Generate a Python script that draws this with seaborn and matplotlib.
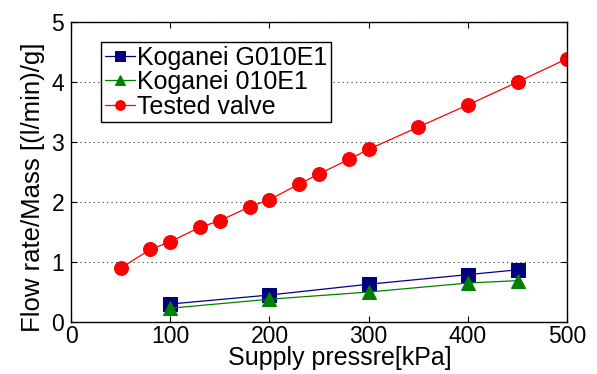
import matplotlib
matplotlib.use("Agg")
import matplotlib.pyplot as plt
import seaborn as sns

sns.set_style("ticks")
plt.rcParams['font.family'] = ['Liberation Sans', 'DejaVu Sans']
plt.rcParams['text.color'] = 'black'
plt.rcParams['axes.labelcolor'] = 'black'
plt.rcParams['xtick.color'] = 'black'
plt.rcParams['ytick.color'] = 'black'

# Data
x_g010 = [100, 200, 300, 400, 450]
y_g010 = [0.30, 0.45, 0.63, 0.79, 0.87]
x_010 = [100, 200, 300, 400, 450]
y_010 = [0.23, 0.38, 0.50, 0.65, 0.69]
x_test = [50, 80, 100, 130, 150, 180, 200, 230, 250, 280, 300, 350, 400, 450, 500]
y_test = [0.90, 1.21, 1.34, 1.58, 1.69, 1.92, 2.04, 2.30, 2.47, 2.71, 2.88, 3.25, 3.62, 4.00, 4.39]
series_names = ["Koganei G010E1", "Koganei 010E1", "Tested valve"]
x_ticks = [0, 100, 200, 300, 400, 500]
y_ticks = [0, 1, 2, 3, 4, 5]

fig = plt.figure(figsize=(5.97, 3.74), dpi=100)
ax = fig.add_axes([0.119, 0.139, 0.831, 0.802])

ax.yaxis.grid(True, linestyle=(0, (1, 3)), color='#333333', linewidth=0.8)
ax.set_axisbelow(True)

sns.lineplot(x=x_g010, y=y_g010, ax=ax, color='#000080', marker='s', markersize=9.5,
             markeredgecolor='#000080', linewidth=0.9, label=series_names[0])
sns.lineplot(x=x_010, y=y_010, ax=ax, color='#008000', marker='^', markersize=10.5,
             markeredgecolor='#008000', linewidth=0.9, label=series_names[1])
sns.lineplot(x=x_test, y=y_test, ax=ax, color='#ff0000', marker='o', markersize=10,
             markeredgecolor='#ff0000', linewidth=0.9, label=series_names[2])

ax.set_xlim(0, 500)
ax.set_ylim(0, 5)
ax.set_xticks(x_ticks)
ax.set_yticks(y_ticks)
ax.tick_params(direction='in', labelsize=16.5, length=4, width=0.8, top=True, right=True,
               colors='black')
ax.tick_params(axis='x', pad=2)
ax.tick_params(axis='y', pad=5)
for s in ax.spines.values():
    s.set_visible(True)
    s.set_linewidth(1.0)
    s.set_color('black')

ax.set_xlabel("Supply pressre[kPa]", fontsize=18, color='black')
ax.set_ylabel("Flow rate/Mass [(l/min)/g]", fontsize=18.5, color='black')
ax.xaxis.set_label_coords(0.542, -0.08)
ax.yaxis.set_label_coords(-0.052, 0.45)

leg = ax.legend(loc='upper left', bbox_to_anchor=(0.0605, 0.934), borderaxespad=0,
                fontsize=18, handlelength=1.2, handletextpad=0.1, labelspacing=0.02,
                borderpad=0.15, fancybox=False, framealpha=1, edgecolor='black',
                markerscale=0.7)
leg.get_frame().set_linewidth(1.0)
for t in leg.get_texts():
    t.set_color('black')

fig.savefig("out.png", dpi=100)
